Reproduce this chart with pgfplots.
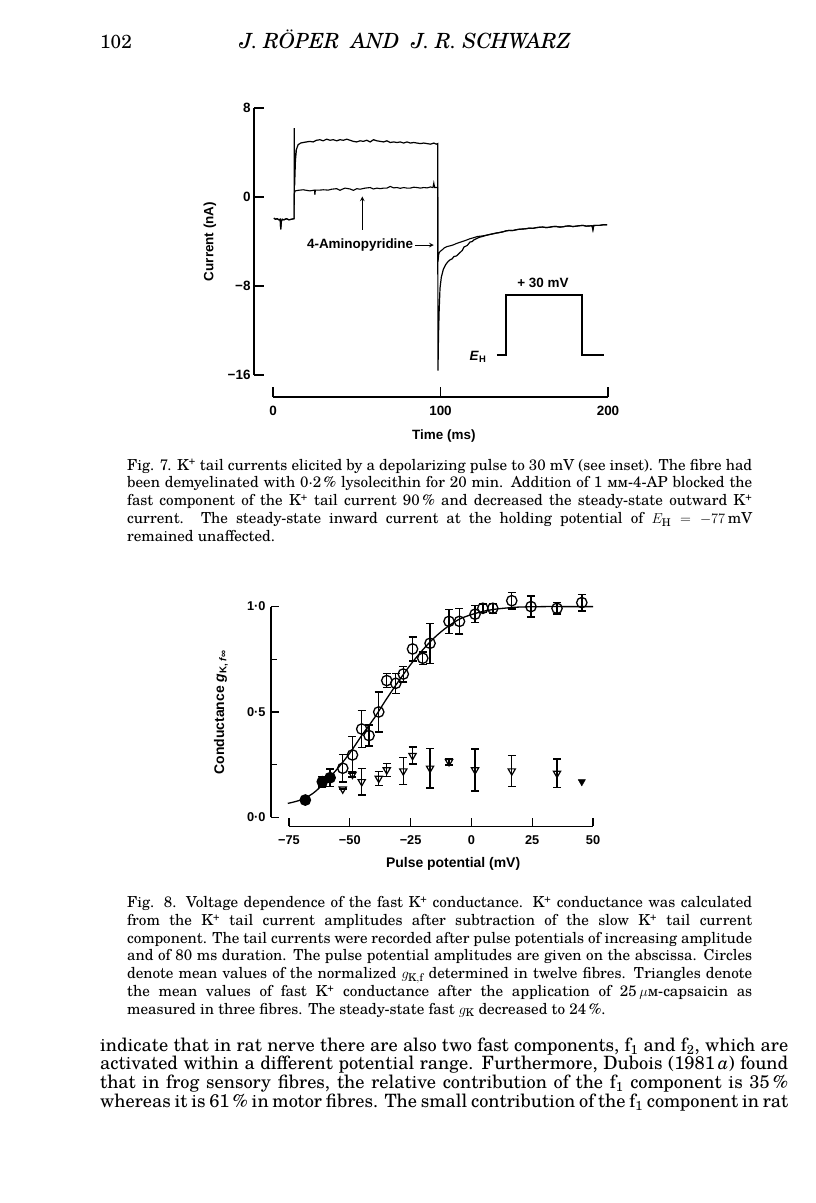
\documentclass[border=0pt]{standalone}
\usepackage{fontspec}
\setmainfont{TeX Gyre Schola}
\newfontfamily\figfont{Liberation Sans}
\usepackage{pgfplots}
\pgfplotsset{compat=1.18}
\newcommand\capfont{\fontsize{15.2}{17}\selectfont}
\newcommand\bodyfont{\fontsize{18.4}{19}\selectfont}
\newcommand\figsize{\figfont\bfseries\fontsize{13.5}{15}\selectfont}
\newcommand\figsizeb{\figfont\bfseries\fontsize{12.8}{15}\selectfont}
\newcommand\figsizec{\figfont\bfseries\fontsize{14}{16}\selectfont}
\newcommand\capline[3]{\node[anchor=base west,inner sep=0pt] at (#1bp,-#2bp){\capfont\makebox[625bp][s]{#3}};}
\newcommand\caplinen[3]{\node[anchor=base west,inner sep=0pt] at (#1bp,-#2bp){\capfont #3};}
\newcommand\bline[2]{\node[anchor=base west,inner sep=0pt] at (100bp,-#1bp){\bodyfont\makebox[688bp][s]{#2}};}
\begin{document}
\begin{tikzpicture}
\fill[white] (0,0) rectangle (816bp,-1203bp);
\path[use as bounding box] (0,0) rectangle (816bp,-1203bp);
% running head
\node[anchor=base west,inner sep=0pt] at (100bp,-48bp){\fontsize{19}{21}\selectfont 102};
\node[anchor=base,inner sep=0pt] at (405bp,-48bp){\fontsize{21}{23}\selectfont\itshape J. RÖPER\ \ AND\ \ J. R. SCHWARZ};

% ---------------- Fig. 7 ----------------
\begin{axis}[
  at={(273bp,-375bp)}, anchor=south west,
  scale only axis, width=335bp, height=267bp,
  xmin=0, xmax=200, ymin=-16, ymax=8,
  axis x line*=bottom, axis y line*=left,
  axis x line shift=22bp, axis y line shift=19bp,
  tick align=inside, major tick length=10bp,
  xtick={0,100,200}, ytick={-16,-8,0,8},
  xticklabels={0,100,200}, yticklabels={−16,−8,0,8},
  axis line style={line width=1.3bp},
  every tick/.append style={line width=1.3bp,black},
  tick label style={font=\figsize},
  xticklabel style={yshift=-6bp},
  label style={font=\figsize},
  xlabel={Time (ms)}, ylabel={Current (nA)},
  xlabel style={at={(axis description cs:0.51,-0.228)},anchor=center},
  ylabel style={at={(axis description cs:-0.188,0.5)},anchor=center},
  clip=false,
]
% control trace
\addplot[black,line width=1.2bp] coordinates {
(0.5,-1.9) (1.5,-2.0) (2.5,-1.95) (3.5,-2.05) (4.3,-2.0) (4.6,-2.9) (5,-2.2) (5.5,-2.0) (6.5,-2.05) (8,-1.95) (9.5,-2.05) (11,-2.0) (12.6,-1.95)
(12.7,6.2) (12.9,1.0) (13.4,3.3) (14,4.3) (15,4.7) (16.5,4.85) (18,4.9) (20,4.95) (22,5.0) (24,4.95) (26,5.1) (28,5.15) (30,5.05) (32,5.2) (34,5.1) (36,5.15) (38,5.05) (40,5.15) (42,5.1) (44,5.2) (46,5.1) (48,5.0) (50,4.95) (52,5.05) (54,5.0) (56,5.1) (58,4.95) (60,5.15) (62,5.05) (64,5.0) (66,4.95) (68,5.05) (70,4.9) (72,4.95) (74,4.9) (76,4.95) (78,4.85) (80,4.95) (82,4.85) (84,4.9) (86,4.85) (88,4.8) (90,4.85) (92,4.8) (94,4.75) (96,4.85) (97.5,4.75) (98.3,4.8)
(98.5,-15.6) (98.8,-12.5) (99.2,-10.2) (99.7,-8.2) (100.5,-7.2) (101.7,-6.5) (103,-6.1) (104.5,-5.8) (105.7,-5.65) (107,-5.55) (108,-5.35) (109.5,-5.3) (111.6,-5.0) (113,-4.8) (114,-4.5) (116,-4.35) (117.6,-4.05) (119,-4.0) (120,-3.85) (122,-3.7) (123.6,-3.6) (125,-3.55) (127,-3.45) (130,-3.35)
(133,-3.25) (135,-3.2) (137.5,-3.12) (139,-3.05) (141,-3.0) (143,-3.02) (145,-2.95) (147,-2.9) (149,-2.88) (151,-2.85) (153,-2.8) (155,-2.82) (157.4,-2.75) (159,-2.72) (161,-2.7) (163,-2.75) (165,-2.72) (167,-2.66) (169,-2.65) (171,-2.7) (173,-2.68) (175,-2.62) (177,-2.6) (179,-2.66) (181,-2.62) (183,-2.58) (185,-2.55) (187,-2.62) (189,-2.6) (190.5,-2.58) (191,-2.95) (191.5,-2.56) (193,-2.55) (195,-2.55) (197,-2.5) (199.5,-2.5)
};
% 4-aminopyridine trace
\addplot[black,line width=1.1bp] coordinates {
(0.5,-1.9) (1.5,-2.0) (2.5,-1.95) (3.5,-2.05) (4.3,-2.0) (4.6,-2.9) (5,-2.2) (5.5,-2.0) (6.5,-2.05) (8,-1.95) (9.5,-2.05) (11,-2.0) (12.6,-1.95)
(12.7,0.3) (13.2,0.55) (15,0.6) (18,0.65) (20,0.6) (22,0.55) (24.8,0.62) (25,0.2) (25.3,0.62) (28,0.62) (30,0.65) (33,0.62) (35,0.7) (38,0.75) (40,0.6) (41,0.68) (43,0.8) (46,0.72) (48,0.6) (50,0.75) (52,0.7) (55,0.8) (58,0.85) (60,0.72) (62,0.8) (64,0.75) (66,0.8) (68,0.8) (70,0.95) (72,0.82) (74,0.85) (76,0.78) (78,0.85) (80,0.8) (82,0.8) (84,0.88) (86,0.85) (88,0.8) (90,0.85) (92,0.82) (94,0.9) (95.5,0.85) (96,1.25) (96.5,0.85) (98.3,0.85)
(98.5,-5.8) (99,-5.1) (99.7,-4.9) (101,-4.75) (102,-4.6) (104,-4.45) (106,-4.38) (107.7,-4.3) (110,-4.15) (112,-4.05) (115,-3.9) (117.6,-3.75) (120,-3.65) (122,-3.55) (125,-3.5) (127,-3.45) (130,-3.35)
(133,-3.25) (135,-3.2) (137.5,-3.12) (139,-3.05) (141,-3.0) (143,-3.02) (145,-2.95) (147,-2.9) (149,-2.88) (151,-2.85) (153,-2.8) (155,-2.82) (157.4,-2.75) (159,-2.72) (161,-2.7) (163,-2.75) (165,-2.72) (167,-2.66) (169,-2.65) (171,-2.7) (173,-2.68) (175,-2.62) (177,-2.6) (179,-2.66) (181,-2.62) (183,-2.58) (185,-2.55) (187,-2.62) (189,-2.6) (190.5,-2.58) (191,-2.95) (191.5,-2.56) (193,-2.55) (195,-2.55) (197,-2.5) (199.5,-2.5)
};
% inset voltage protocol
\addplot[black,line width=1.3bp] coordinates {(133.7,-14.2) (139.1,-14.2) (139.1,-8.8) (184.5,-8.8) (184.5,-14.2) (197.6,-14.2)};
\node[font=\figsize] at (axis cs:161.2,-7.75) {+ 30 mV};
\node[font=\figsize] at (axis cs:122.4,-14.35) {\textit{E}\textsubscript{H}};
\draw[black,line width=1.1bp,-stealth] (axis cs:53.3,-2.95) -- (axis cs:53.3,0.05);
\node[font=\figsize,anchor=east,inner sep=1pt] at (axis cs:84.4,-4.35) {4-Aminopyridine};
\draw[black,line width=1.1bp,-stealth] (axis cs:84.8,-4.32) -- (axis cs:96.0,-4.32);
\end{axis}

% Fig. 7 caption
\capline{127}{470}{Fig. 7. K\textsuperscript{+} tail currents elicited by a depolarizing pulse to 30 mV (see inset). The fibre had}
\capline{127}{487.7}{been demyelinated with 0·2\,\% lysolecithin for 20 min. Addition of 1 \textsc{mm}-4-AP blocked the}
\capline{127}{505.5}{fast component of the K\textsuperscript{+} tail current 90\,\% and decreased the steady-state outward K\textsuperscript{+}}
\capline{127}{523.3}{current. The steady-state inward current at the holding potential of $E_{\mathrm{H}}\!=\!-77$\,mV}
\caplinen{127}{541}{remained unaffected.}

% ---------------- Fig. 8 ----------------
\begin{axis}[
  at={(289bp,-817.3bp)}, anchor=south west,
  scale only axis, width=304bp, height=210.7bp,
  xmin=-75, xmax=50, ymin=0, ymax=1,
  axis x line*=bottom, axis y line*=left,
  axis x line shift=9bp, axis y line shift=18bp,
  tick align=inside, major tick length=8bp, minor tick length=6bp,
  xtick={-75,-50,-25,0,25,50}, ytick={0,0.5,1}, minor ytick={0.25,0.75},
  xticklabels={−75,−50,−25,0,25,50}, yticklabels={0·0,0·5,1·0},
  axis line style={line width=1.3bp},
  every tick/.append style={line width=1.3bp,black},
  tick label style={font=\figsizeb},
  xticklabel style={yshift=-6bp},
  yticklabel style={xshift=-2bp},
  label style={font=\figsizec},
  xlabel={Pulse potential (mV)},
  ylabel={Conductance \textit{g}\textsubscript{K, \textit{f}∞}},
  xlabel style={at={(axis description cs:0.54,-0.222)},anchor=center},
  ylabel style={at={(axis description cs:-0.224,0.5)},anchor=center},
  clip=false,
]
% fitted curve
\addplot[black,line width=1.3bp,smooth] coordinates {
(-75.5,0.066) (-70,0.083) (-65,0.115) (-60,0.168) (-55,0.232) (-50,0.305) (-45,0.39) (-40,0.47) (-35,0.56) (-30,0.645) (-25,0.725) (-20,0.795) (-15,0.855) (-10,0.903) (-5,0.94) (0,0.962) (5,0.978) (10,0.988) (15,0.994) (20,0.998) (30,1.0) (40,1.0) (50,1.0)
};
% control, filled circles
\addplot[black,only marks,mark=*,mark size=5.2bp,mark options={line width=1.3bp,fill=black},
  error bars/.cd, y dir=both, y explicit,
  error bar style={line width=1.4bp}, error mark options={rotate=90,line width=1.4bp,mark size=4bp}]
coordinates {
(-68.3,0.082) +- (0,0.012)
(-61.3,0.169) +- (0,0.025)
(-58.1,0.188) +- (0,0.042)
};
% control, open circles
\addplot[black,only marks,mark=o,mark size=5.2bp,mark options={line width=1.3bp},
  error bars/.cd, y dir=both, y explicit,
  error bar style={line width=1.4bp}, error mark options={rotate=90,line width=1.4bp,mark size=4bp}]
coordinates {
(-52.9,0.233) +- (0,0.066)
(-48.9,0.296) +- (0,0.087)
(-45.1,0.419) +- (0,0.087)
(-42.1,0.388) +- (0,0.05)
(-38.1,0.500) +- (0,0.095)
(-34.8,0.649) +- (0,0.034)
(-31.1,0.636) +- (0,0.047)
(-28.0,0.680) +- (0,0.037)
(-24.2,0.799) +- (0,0.057)
(-20.0,0.755) +- (0,0.03)
(-17.0,0.826) +- (0,0.095)
(-9.2,0.930) +- (0,0.057)
(-4.9,0.930) +- (0,0.06)
(1.5,0.964) +- (0,0.04)
(4.7,0.992) +- (0,0.02)
(8.8,0.992) +- (0,0.024)
(16.6,1.028) +- (0,0.04)
(24.5,1.000) +- (0,0.05)
(35.2,0.992) +- (0,0.028)
(45.4,1.019) +- (0,0.039)
};
% capsaicin, open triangles
\addplot[black,only marks,mark=triangle,mark size=4.2bp,mark options={rotate=180,line width=1.2bp},
  error bars/.cd, y dir=both, y explicit,
  error bar style={line width=1.4bp}, error mark options={rotate=90,line width=1.4bp,mark size=4bp}]
coordinates {
(-52.9,0.134) +- (0,0.0)
(-48.9,0.204) +- (0,0.012)
(-45.1,0.169) +- (0,0.063)
(-38.1,0.185) +- (0,0.033)
(-34.8,0.225) +- (0,0.03)
(-28.0,0.220) +- (0,0.065)
(-24.2,0.293) +- (0,0.04)
(-17.0,0.233) +- (0,0.093)
(-9.2,0.264) +- (0,0.015)
(1.5,0.225) +- (0,0.1)
(16.6,0.220) +- (0,0.074)
(35.2,0.209) +- (0,0.068)
};
% capsaicin, filled triangle
\addplot[black,only marks,mark=triangle*,mark size=4.2bp,mark options={rotate=180,fill=black}]
coordinates {(45.4,0.169)};
\end{axis}

% Fig. 8 caption
\capline{127}{907.5}{Fig. 8. Voltage dependence of the fast K\textsuperscript{+} conductance. K\textsuperscript{+} conductance was calculated}
\capline{127}{925.25}{from the K\textsuperscript{+} tail current amplitudes after subtraction of the slow K\textsuperscript{+} tail current}
\capline{127}{943}{component. The tail currents were recorded after pulse potentials of increasing amplitude}
\capline{127}{960.75}{and of 80 ms duration. The pulse potential amplitudes are given on the abscissa. Circles}
\capline{127}{978.5}{denote mean values of the normalized $g_{\mathrm{K,f}}$ determined in twelve fibres. Triangles denote}
\capline{127}{996.25}{the mean values of fast K\textsuperscript{+} conductance after the application of 25\,$\mu$\textsc{m}-capsaicin as}
\caplinen{127}{1014}{measured in three fibres. The steady-state fast $g_{\mathrm{K}}$ decreased to 24\,\%.}

% body text
\bline{1051}{indicate that in rat nerve there are also two fast components, f\textsubscript{1} and f\textsubscript{2}, which are}
\bline{1069.7}{activated within a different potential range. Furthermore, Dubois (1981\,\textit{a}) found}
\bline{1088.4}{that in frog sensory fibres, the relative contribution of the f\textsubscript{1} component is 35\,\%}
\bline{1107}{whereas it is 61\,\% in motor fibres. The small contribution of the f\textsubscript{1} component in rat}
\end{tikzpicture}
\end{document}
